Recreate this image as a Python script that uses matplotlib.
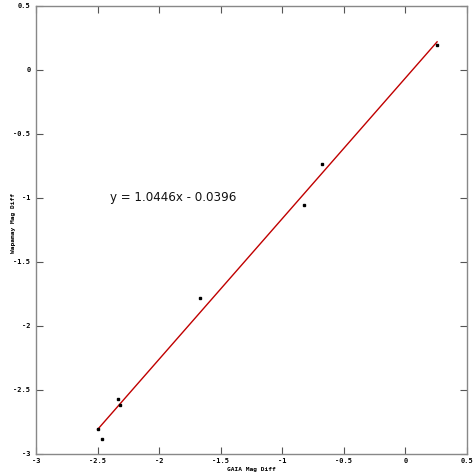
import numpy as np
import matplotlib
matplotlib.use("Agg")
import matplotlib.pyplot as plt

# magnitude differences
gaia_diff = [-2.50, -2.466, -2.331, -2.318, -1.668, -0.820, -0.674, 0.257]
other_diff = [-2.805, -2.885, -2.570, -2.617, -1.781, -1.052, -0.737, 0.195]
x_ticks = [-3, -2.5, -2, -1.5, -1, -0.5, 0, 0.5]
y_ticks = [-3, -2.5, -2, -1.5, -1, -0.5, 0, 0.5]
eq_text = "y = 1.0446x - 0.0396"

fig = plt.figure(figsize=(4.74, 4.74), dpi=100)
ax = fig.add_axes([36/474, 20/474, 431/474, 448/474])

# fitted trend line across the data range
k, b = np.polyfit(gaia_diff, other_diff, 1)
xs = np.array([min(gaia_diff), max(gaia_diff)])
ax.plot(xs, k*xs + b, color='#c00000', lw=1.0, zorder=2)
ax.plot(gaia_diff, other_diff, 's', color='black', ms=1.6, zorder=3)

ax.set_xlim(-3, 0.5)
ax.set_ylim(-3, 0.5)
ax.set_xticks(x_ticks)
ax.set_yticks(y_ticks)
ax.set_xticklabels([f"{t:g}" for t in x_ticks], fontsize=5, fontweight='bold', family='DejaVu Sans Mono')
ax.set_yticklabels([f"{t:g}" for t in y_ticks], fontsize=5, fontweight='bold', family='DejaVu Sans Mono')
ax.tick_params(axis='x', pad=3)
ax.tick_params(axis='y', pad=4)
ax.tick_params(direction='in', length=5, width=0.8, color='#555555', top=True, right=True)
for s in ax.spines.values():
    s.set_color('#888888')
    s.set_linewidth(1.0)

ax.set_xlabel("GAIA Mag Diff", fontsize=4.5, fontweight='bold', family='DejaVu Sans Mono')
ax.xaxis.set_label_coords(0.5, -13/448)
ax.set_ylabel("Wapamay Mag Diff", fontsize=4.5, fontweight='bold', family='DejaVu Sans Mono')
ax.yaxis.set_label_coords(-20/431, 0.515)

ax.text(-2.4, -1.0, eq_text, fontsize=8.6, va='center', ha='left', color='#111111')

fig.savefig("out.png", dpi=100)
